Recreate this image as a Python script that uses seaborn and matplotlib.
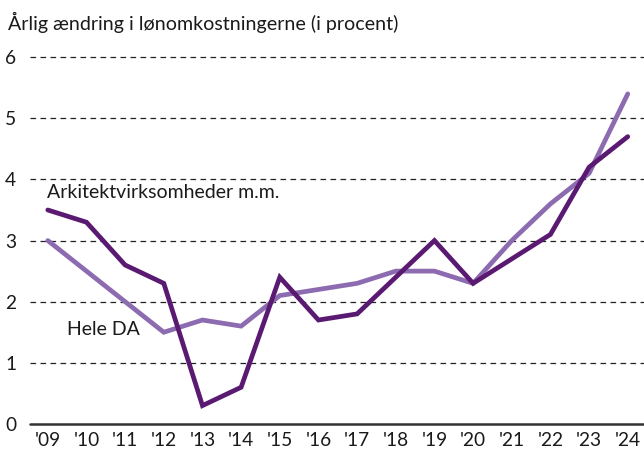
import matplotlib
matplotlib.use("Agg")
import matplotlib.pyplot as plt
import seaborn as sns
import pandas as pd

years = ["'09", "'10", "'11", "'12", "'13", "'14", "'15", "'16",
         "'17", "'18", "'19", "'20", "'21", "'22", "'23", "'24"]
arkitekt = [3.5, 3.3, 2.6, 2.3, 0.3, 0.6, 2.4, 1.7, 1.8, 2.4, 3.0, 2.3, 2.7, 3.1, 4.2, 4.7]
hele_da = [3.0, 2.5, 2.0, 1.5, 1.7, 1.6, 2.1, 2.2, 2.3, 2.5, 2.5, 2.3, 3.0, 3.6, 4.1, 5.4]
yticks = [0, 1, 2, 3, 4, 5, 6]
title = "Årlig ændring i lønomkostningerne (i procent)"
label_ark = "Arkitektvirksomheder m.m."
label_da = "Hele DA"

sns.set_theme(style="white")
plt.rcParams['font.family'] = ['Lato', 'DejaVu Sans']

df = pd.DataFrame({
    "x": list(range(len(years))) * 2,
    "value": hele_da + arkitekt,
    "series": [label_da] * len(years) + [label_ark] * len(years),
})

fig = plt.figure(figsize=(6.44, 4.51), dpi=100)
ax = fig.add_axes([0.046, 0.06, 0.954, 0.82])

sns.lineplot(data=df, x="x", y="value", hue="series",
             palette={label_da: "#8c6bb0", label_ark: "#5a1a72"},
             linewidth=3.4, legend=False, ax=ax,
             solid_capstyle="round", solid_joinstyle="miter")

ax.set_xlim(-0.47, 15.42)
ax.set_ylim(0, 6.05)
ax.set_yticks(yticks)
ax.set_yticklabels([str(t) for t in yticks])
ax.set_xticks(range(len(years)))
ax.set_xticklabels(years)
for y in yticks[1:]:
    ax.axhline(y, color="#222222", lw=0.9, ls=(0, (4.5, 3.5)), zorder=0)
ax.axhline(0, color="#333333", lw=1.8, zorder=1, clip_on=False)

for s in ax.spines.values():
    s.set_visible(False)
ax.tick_params(axis="both", length=0, labelsize=13.8, colors="#1a1a1a")
ax.tick_params(axis="x", pad=6)
for lab in ax.get_yticklabels():
    lab.set_horizontalalignment("left")
    lab.set_x(-0.04)
ax.tick_params(axis="y", pad=0)
ax.set_xlabel("")
ax.set_ylabel("")

ax.text(-0.02, 3.79, label_ark, fontsize=14, color="#1a1a1a", va="center", ha="left")
ax.text(0.5, 1.54, label_da, fontsize=14, color="#1a1a1a", va="center", ha="left")

fig.text(0.012, 0.951, title, fontsize=14.1, color="#1a1a1a", va="center", ha="left")

fig.savefig("out.png", dpi=100)
